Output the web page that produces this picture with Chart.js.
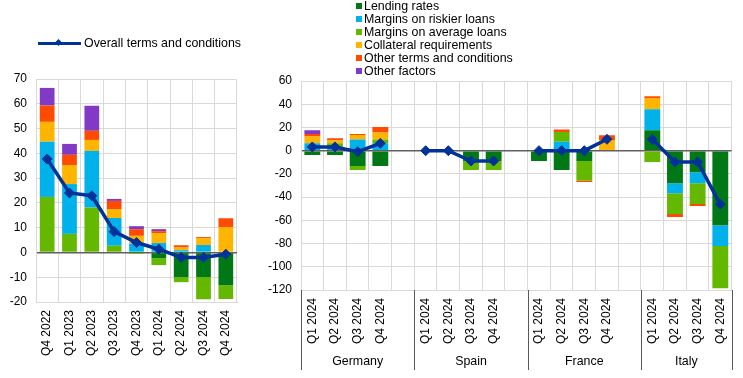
<!DOCTYPE html>
<html>
<head>
<meta charset="utf-8">
<script src="https://cdn.jsdelivr.net/npm/chart.js@4/dist/chart.umd.min.js"></script>
<style>
  body { margin: 0; background: #fff; }
  #wrap { position: relative; width: 743px; height: 378px; font-family: 'Liberation Sans', Arial, sans-serif; font-size: 12.4px; color: #000; }
  .box { position: absolute; top: 0; height: 378px; }
  .leg { position: absolute; white-space: nowrap; line-height: 12.9px; }
  .sq { display: inline-block; width: 6px; height: 6px; margin-right: 2px; vertical-align: 1px; }
</style>
</head>
<body>
<div id="wrap">
  <div class="box" style="left:0;width:260px"><canvas id="left"></canvas></div>
  <div class="box" style="left:260px;width:483px"><canvas id="right"></canvas></div>
  <div class="leg" id="legLeft" style="left:38px;top:36px"></div>
  <div class="leg" id="legRight" style="left:356px;top:0px"></div>
</div>
<script>
// series names and colours
const seriesNames = ['Lending rates', 'Margins on riskier loans', 'Margins on average loans',
  'Collateral requirements', 'Other terms and conditions', 'Other factors'];
const seriesColors = ['#007816', '#00b1ea', '#65b800', '#ffb400', '#ff4b00', '#8139c6'];
const lineName = 'Overall terms and conditions';
const lineColor = '#003299';

// left chart: euro area
const leftCategories = ['Q4 2022', 'Q1 2023', 'Q2 2023', 'Q3 2023', 'Q4 2023', 'Q1 2024', 'Q2 2024', 'Q3 2024', 'Q4 2024'];
const leftLending      = [0, 0, 0, 0, 0, -2.3, -10.0, -10.0, -13.2];
const leftRiskier      = [22.3, 20.1, 22.9, 11.2, 3.6, 3.8, 0.9, 3.0, 0];
const leftAverage      = [22.4, 7.5, 18.1, 2.7, -0.6, -2.8, -2.0, -8.9, -5.6];
const leftCollateral   = [8.0, 7.7, 4.4, 3.6, 3.1, 4.0, 1.1, 2.8, 10.2];
const leftOtherTerms   = [6.6, 4.1, 3.7, 3.3, 2.7, 0.8, 0.9, 0.4, 3.6];
const leftOtherFactors = [7.1, 4.4, 10.1, 0.8, 1.2, 0.8, 0, 0, 0];
const leftOverall      = [37.7, 24.0, 22.9, 8.4, 4.0, 1.3, -2.0, -2.0, -0.7];

// right chart: countries, 4 quarters each, empty slot between groups
const groups = ['Germany', 'Spain', 'France', 'Italy'];
const quarters = ['Q1 2024', 'Q2 2024', 'Q3 2024', 'Q4 2024'];
const rLending      = [[-3.8, -3.8, -13.3, -13.3], [0, 0, -9.2, -9.2], [-8.9, -16.6, -8.9, 0], [17.5, -28.1, -18.6, -64.3]];
const rRiskier      = [[6.3, 2.5, 9.7, 6.3], [0, 0, 0, 0], [0, 7.7, 0, 0], [18.1, -8.6, -9.5, -17.8]];
const rAverage      = [[0, 3.8, -3.3, 3.4], [0, 0, -7.5, -7.5], [0, 8.3, -16.9, 0], [-9.8, -17.8, -17.8, -36.4]];
const rCollateral   = [[6.0, 2.6, 3.7, 6.0], [0, 0, 0, 0], [0, 0, 0, 9.2], [9.8, 0, 0, 0]];
const rOtherTerms   = [[2.0, 1.7, 0.9, 4.6], [0, 0, 0, 0], [0, 2.3, -1.1, 4.0], [1.4, -2.6, -1.7, 0]];
const rOtherFactors = [[3.2, 0, 0, 0], [0, 0, 0, 0], [0, 0, 0, 0], [0, 0, 0, 0]];
const rOverall      = [[3.2, 3.2, -0.9, 6.3], [0, 0, -8.9, -8.9], [0, 0, 0, 9.8], [9.8, -9.8, -9.8, -46.2]];

// flatten group arrays with a gap slot after each group except the last
function flat(arr, gap) {
  const out = [];
  arr.forEach((g, i) => {
    out.push(...g);
    if (i < arr.length - 1) out.push(gap);
  });
  return out;
}
const rightLabels = flat(groups.map(() => quarters), '');

Chart.defaults.font.family = "'Liberation Sans', Arial, sans-serif";
Chart.defaults.font.size = 12;
Chart.defaults.color = '#000';
Chart.defaults.animation = false;

const gridColor = '#d9d9d9';

function barSet(label, data, color, pct) {
  return { type: 'bar', label: label, data: data, backgroundColor: color,
    categoryPercentage: 1, barPercentage: pct, order: 2 };
}
function lineSet(data) {
  return { type: 'line', label: lineName, data: data, borderColor: lineColor, backgroundColor: lineColor,
    borderWidth: 3.5, pointStyle: 'rectRot', pointRadius: 5, pointBorderWidth: 1,
    tension: 0, spanGaps: false, order: 0 };
}
function yScale(min, max, step, width) {
  return {
    stacked: true, min: min, max: max,
    ticks: { stepSize: step, padding: 9 },
    border: { color: gridColor },
    grid: {
      drawTicks: false,
      color: c => c.tick && c.tick.value === 0 ? '#606060' : gridColor,
      lineWidth: c => c.tick && c.tick.value === 0 ? 1.5 : 1
    },
    afterFit: s => { s.width = width; }
  };
}
function xScale(height) {
  return {
    stacked: true,
    ticks: { minRotation: 90, maxRotation: 90, autoSkip: false, padding: 8 },
    border: { color: gridColor },
    grid: { color: gridColor, drawTicks: false, offset: true },
    afterFit: s => { s.height = height; }
  };
}

new Chart(document.getElementById('left'), {
  data: {
    labels: leftCategories,
    datasets: [
      lineSet(leftOverall),
      barSet(seriesNames[0], leftLending, seriesColors[0], 0.66),
      barSet(seriesNames[2], leftAverage, seriesColors[2], 0.66),
      barSet(seriesNames[1], leftRiskier, seriesColors[1], 0.66),
      barSet(seriesNames[3], leftCollateral, seriesColors[3], 0.66),
      barSet(seriesNames[4], leftOtherTerms, seriesColors[4], 0.66),
      barSet(seriesNames[5], leftOtherFactors, seriesColors[5], 0.66)
    ]
  },
  options: {
    responsive: true, maintainAspectRatio: false,
    layout: { padding: { top: 79, right: 23, left: 0, bottom: 0 } },
    plugins: { legend: { display: false }, tooltip: { enabled: false } },
    scales: { x: xScale(76), y: yScale(-20, 70, 10, 36) }
  }
});

// group labels and separators under the right chart
const groupPlugin = {
  id: 'groups',
  afterDraw(chart) {
    const ctx = chart.ctx;
    const xs = chart.scales.x;
    const n = chart.data.labels.length;
    const w = (xs.right - xs.left) / n;
    const bottom = chart.chartArea.bottom;
    const bounds = [0];
    let i = 0;
    groups.forEach((g, gi) => {
      i += quarters.length + (gi < groups.length - 1 ? 1 : 0);
      bounds.push(i);
    });
    ctx.save();
    ctx.strokeStyle = '#595959';
    ctx.lineWidth = 1;
    bounds.forEach(b => {
      const x = Math.round(xs.left + b * w) + 0.5;
      ctx.beginPath();
      ctx.moveTo(x, bottom);
      ctx.lineTo(x, bottom + 80);
      ctx.stroke();
    });
    ctx.fillStyle = '#000';
    ctx.font = "12.4px 'Liberation Sans', Arial, sans-serif";
    ctx.textAlign = 'center';
    ctx.textBaseline = 'middle';
    groups.forEach((g, gi) => {
      const cx = xs.left + (bounds[gi] + bounds[gi + 1]) / 2 * w;
      ctx.fillText(g, cx, bottom + 72);
    });
    ctx.restore();
  }
};

new Chart(document.getElementById('right'), {
  data: {
    labels: rightLabels,
    datasets: [
      lineSet(flat(rOverall, null)),
      barSet(seriesNames[0], flat(rLending, null), seriesColors[0], 0.7),
      barSet(seriesNames[1], flat(rRiskier, null), seriesColors[1], 0.7),
      barSet(seriesNames[2], flat(rAverage, null), seriesColors[2], 0.7),
      barSet(seriesNames[3], flat(rCollateral, null), seriesColors[3], 0.7),
      barSet(seriesNames[4], flat(rOtherTerms, null), seriesColors[4], 0.7),
      barSet(seriesNames[5], flat(rOtherFactors, null), seriesColors[5], 0.7)
    ]
  },
  options: {
    responsive: true, maintainAspectRatio: false,
    layout: { padding: { top: 81, right: 11, left: 0, bottom: 0 } },
    plugins: { legend: { display: false }, tooltip: { enabled: false } },
    scales: { x: xScale(88), y: yScale(-120, 60, 20, 41) }
  },
  plugins: [groupPlugin]
});

// html legends
const legLeft = document.getElementById('legLeft');
legLeft.innerHTML = '<span style="display:inline-block;position:relative;width:43px;height:14px;vertical-align:middle;margin-right:3px">' +
  '<span style="position:absolute;left:0;top:5.5px;width:43px;height:3.5px;background:' + lineColor + '"></span>' +
  '<span style="position:absolute;left:18px;top:4px;width:5px;height:5px;background:' + lineColor + ';transform:rotate(45deg)"></span>' +
  '</span><span style="vertical-align:middle">' + lineName + '</span>';

const legRight = document.getElementById('legRight');
legRight.innerHTML = seriesNames.map((n, i) =>
  '<div><span class="sq" style="background:' + seriesColors[i] + '"></span>' + n + '</div>').join('');
</script>
</body>
</html>
